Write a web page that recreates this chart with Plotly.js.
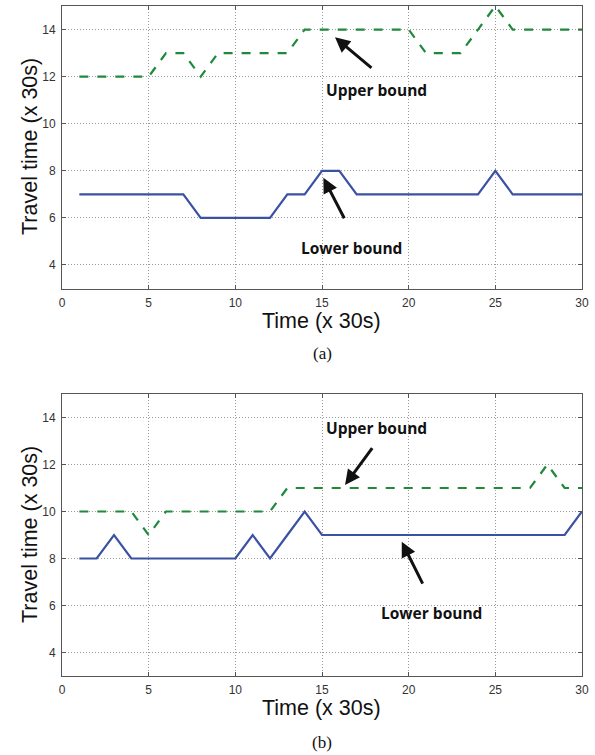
<!DOCTYPE html>
<html>
<head>
<meta charset="utf-8">
<script src="https://cdn.plot.ly/plotly-3.0.1.min.js"></script>
<style>html,body{margin:0;padding:0;background:#fff;}#chart{width:595px;height:755px;}</style>
</head>
<body>
<div id="chart"></div>
<script>
const time = [1,2,3,4,5,6,7,8,9,10,11,12,13,14,15,16,17,18,19,20,21,22,23,24,25,26,27,28,29,30];
const upperA = [12,12,12,12,12,13,13,12,13,13,13,13,13,14,14,14,14,14,14,14,13,13,13,14,15,14,14,14,14,14];
const lowerA = [7,7,7,7,7,7,7,6,6,6,6,6,7,7,8,8,7,7,7,7,7,7,7,7,8,7,7,7,7,7];
const upperB = [10,10,10,10,9,10,10,10,10,10,10,10,11,11,11,11,11,11,11,11,11,11,11,11,11,11,11,12,11,11];
const lowerB = [8,8,9,8,8,8,8,8,8,8,9,8,9,10,9,9,9,9,9,9,9,9,9,9,9,9,9,9,9,10];
const xTicks = [0,5,10,15,20,25,30];
const yTicks = [4,6,8,10,12,14];
const yTitle = "Travel time (x 30s)";
const xTitle = "Time (x 30s)";
const panelLabels = ["(a)", "(b)"];
const upperLabel = "Upper bound";
const lowerLabel = "Lower bound";

const blue = "#3b51a3";
const green = "#1f8a3a";

const traces = [
  {x: time, y: upperA, xaxis: "x", yaxis: "y", mode: "lines", line: {color: green, width: 2.2, dash: "dash"}},
  {x: time, y: lowerA, xaxis: "x", yaxis: "y", mode: "lines", line: {color: blue, width: 2.2}},
  {x: time, y: upperB, xaxis: "x2", yaxis: "y2", mode: "lines", line: {color: green, width: 2.2, dash: "dash"}},
  {x: time, y: lowerB, xaxis: "x2", yaxis: "y2", mode: "lines", line: {color: blue, width: 2.2}}
];

const tickFont = {family: "Liberation Sans, Arial, sans-serif", size: 12, color: "#333"};
function xa(anchor, domain) {
  return {domain: domain, anchor: anchor, range: [0, 30], tickvals: xTicks, ticks: "inside", ticklen: 4,
    tickcolor: "#555", showline: true, linecolor: "#555", linewidth: 1, mirror: "ticks",
    showgrid: true, gridcolor: "#9a9a9a", griddash: "1px,2px", gridwidth: 1, zeroline: false,
    tickfont: tickFont, ticklabelstandoff: 3};
}
function ya(anchor, domain) {
  return {domain: domain, anchor: anchor, range: [3, 15], tickvals: yTicks, ticks: "inside", ticklen: 4,
    tickcolor: "#555", showline: true, linecolor: "#555", linewidth: 1, mirror: "ticks",
    showgrid: true, gridcolor: "#9a9a9a", griddash: "1px,2px", gridwidth: 1, zeroline: false,
    tickfont: tickFont, ticklabelstandoff: 3};
}

const titleFont = {family: "Liberation Sans, Arial, sans-serif", size: 21.5, color: "#111"};
const labFont = {family: "Open Sans, sans-serif", size: 15.5, color: "#111", weight: "bold"};
const capFont = {family: "Liberation Serif, Times New Roman, serif", size: 17, color: "#111"};

function pa(x, y, text, font, angle) {
  return {xref: "paper", yref: "paper", x: x/595, y: 1 - y/755, xanchor: "center", yanchor: "middle",
    text: text, textangle: angle || 0, showarrow: false, font: font};
}
function lab(xr, yr, x, y, text) {
  return {xref: xr, yref: yr, x: x, y: y, xanchor: "center", yanchor: "middle", text: text, showarrow: false, font: labFont};
}
function arr(xr, yr, x, y, ax, ay) {
  return {xref: xr, yref: yr, x: x, y: y, ax: ax, ay: ay, axref: xr, ayref: yr, showarrow: true,
    arrowhead: 2, arrowsize: 1, arrowwidth: 3, arrowcolor: "#111", text: ""};
}

const ann = [
  pa(30, 147, yTitle, titleFont, -90),
  pa(321, 321, xTitle, titleFont),
  pa(322, 353, panelLabels[0], capFont),
  pa(30, 535, yTitle, titleFont, -90),
  pa(321, 708, xTitle, titleFont),
  pa(322, 742, panelLabels[1], capFont),
  lab("x", "y", 18.12, 11.43, upperLabel),
  arr("x", "y", 15.75, 13.67, 17.94, 12.32),
  lab("x", "y", 16.73, 4.74, lowerLabel),
  arr("x", "y", 15.08, 7.70, 16.33, 5.92),
  lab("x2", "y2", 18.12, 13.57, upperLabel),
  arr("x2", "y2", 16.33, 11.13, 17.96, 12.76),
  lab("x2", "y2", 21.33, 5.69, lowerLabel),
  arr("x2", "y2", 19.6, 8.71, 20.85, 6.87)
];

const xd = [62/595, 582/595];
const layout = {
  width: 595, height: 755, margin: {l: 0, r: 0, t: 0, b: 0},
  paper_bgcolor: "#fff", plot_bgcolor: "#fff", showlegend: false,
  xaxis: xa("y", xd), yaxis: ya("x", [1 - 288.5/755, 1 - 6/755]),
  xaxis2: xa("y2", xd), yaxis2: ya("x2", [1 - 676/755, 1 - 394/755]),
  annotations: ann
};
Plotly.newPlot("chart", traces, layout, {staticPlot: true});
</script>
</body>
</html>
